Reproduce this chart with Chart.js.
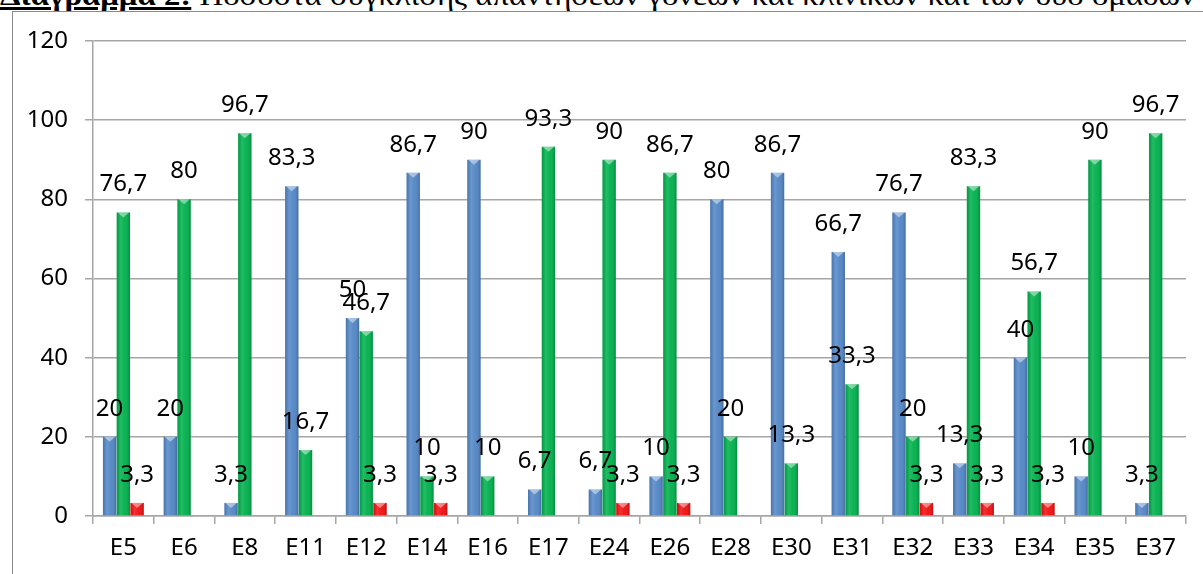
<!DOCTYPE html>
<html>
<head>
<meta charset="utf-8">
<script src="https://cdn.jsdelivr.net/npm/chart.js@4.4.1/dist/chart.umd.min.js"></script>
<style>
  html, body { margin: 0; padding: 0; background: #fff; }
  #wrap { position: relative; width: 1203px; height: 574px; overflow: hidden; }
  #frame { position: absolute; left: 12px; top: 11px; width: 1300px; height: 700px;
           border: 1px solid #8a8a8a; box-sizing: border-box; }
  #title { position: absolute; left: 0; top: -18px; white-space: nowrap;
           font-family: "Liberation Serif", "DejaVu Serif", serif; font-size: 28px;
           line-height: 1; color: #000; transform-origin: 0 0; }
  #title b { text-decoration: underline; text-decoration-thickness: 3px; }
  #chartBox { position: absolute; left: 0; top: 0; width: 1203px; height: 574px; }
</style>
</head>
<body>
<div id="wrap">
  <div id="frame"></div>
  <div id="title"><b>Διάγραμμα 2:</b> Ποσοστά σύγκλισης απαντήσεων γονέων και κλινικών και των δύο ομάδων</div>
  <div id="chartBox"><canvas id="c"></canvas></div>
</div>
<script>
// Items of the questionnaire
const categories = ["E5","E6","E8","E11","E12","E14","E16","E17","E24","E26","E28","E30","E31","E32","E33","E34","E35","E37"];
// Percentages per answer group
const blueValues  = [20, 20, 3.3, 83.3, 50, 86.7, 90, 6.7, 6.7, 10, 80, 86.7, 66.7, 76.7, 13.3, 40, 10, 3.3];
const greenValues = [76.7, 80, 96.7, 16.7, 46.7, 10, 10, 93.3, 90, 86.7, 20, 13.3, 33.3, 20, 83.3, 56.7, 90, 96.7];
const redValues   = [3.3, null, null, null, 3.3, 3.3, null, null, 3.3, 3.3, null, null, null, 3.3, 3.3, 3.3, null, null];
const yTicks = [0, 20, 40, 60, 80, 100, 120];

// stretch the heading across the page width
(function () {
  const t = document.getElementById('title');
  const w = t.getBoundingClientRect().width;
  t.style.transform = 'scaleX(' + (1195 / w) + ')';
})();

const FONT = '"Noto Sans", "Open Sans", sans-serif';
const GRID = '#a6a6a6';

// cylinder-like shading over each bar
const shadePlugin = {
  id: 'shade',
  afterDatasetsDraw(chart) {
    const ctx = chart.ctx;
    chart.data.datasets.forEach((ds, di) => {
      const meta = chart.getDatasetMeta(di);
      meta.data.forEach((bar, i) => {
        if (ds.data[i] == null) return;
        const p = bar.getProps(['x', 'y', 'base', 'width'], true);
        const l = p.x - p.width / 2, r = p.x + p.width / 2;
        const g = ctx.createLinearGradient(l, 0, r, 0);
        g.addColorStop(0, 'rgba(0,0,0,0.12)');
        g.addColorStop(0.3, 'rgba(255,255,255,0.14)');
        g.addColorStop(0.6, 'rgba(255,255,255,0.04)');
        g.addColorStop(1, 'rgba(0,0,0,0.2)');
        ctx.save();
        ctx.fillStyle = g;
        ctx.fillRect(l, p.y, p.width, p.base - p.y);
        // light cap on top
        ctx.fillStyle = 'rgba(255,255,255,0.45)';
        ctx.beginPath();
        ctx.moveTo(l + 1, p.y);
        ctx.lineTo(r - 1, p.y);
        ctx.lineTo(p.x, Math.min(p.y + 5, p.base));
        ctx.closePath();
        ctx.fill();
        ctx.restore();
      });
    });
  }
};

// value labels above each bar
const labelPlugin = {
  id: 'valueLabels',
  afterDatasetsDraw(chart) {
    const ctx = chart.ctx;
    ctx.save();
    ctx.font = '24px ' + FONT;
    ctx.fillStyle = '#000';
    ctx.textAlign = 'center';
    ctx.textBaseline = 'middle';
    chart.data.datasets.forEach((ds, di) => {
      const meta = chart.getDatasetMeta(di);
      meta.data.forEach((bar, i) => {
        const v = ds.data[i];
        if (v == null || v === 0) return;
        const p = bar.getProps(['x', 'y'], true);
        ctx.fillText(String(v).replace('.', ','), p.x, p.y - 28);
      });
    });
    ctx.restore();
  }
};

new Chart(document.getElementById('c'), {
  type: 'bar',
  data: {
    labels: categories,
    datasets: [
      { data: blueValues,  backgroundColor: '#5286C6' },
      { data: greenValues, backgroundColor: '#00B04C' },
      { data: redValues,   backgroundColor: '#F01010' }
    ]
  },
  options: {
    responsive: true,
    maintainAspectRatio: false,
    animation: false,
    devicePixelRatio: 1,
    categoryPercentage: 0.68,
    barPercentage: 0.97,
    layout: { padding: { left: 0, top: 41, right: 17, bottom: 0 } },
    plugins: { legend: { display: false }, tooltip: { enabled: false } },
    scales: {
      x: {
        grid: { drawOnChartArea: false, drawTicks: true, tickLength: 8, color: GRID, lineWidth: 1.5 },
        border: { color: GRID, width: 1.5 },
        ticks: { font: { family: FONT, size: 24 }, color: '#000', padding: 10, maxRotation: 0, autoSkip: false },
        afterFit(scale) { scale.height = 58; }
      },
      y: {
        min: 0, max: 120,
        afterBuildTicks(scale) { scale.ticks = yTicks.map(v => ({ value: v })); },
        grid: { color: GRID, lineWidth: 1.5, tickLength: 8 },
        border: { color: GRID, width: 1.5 },
        ticks: { font: { family: FONT, size: 24 }, color: '#000', padding: 17 },
        afterFit(scale) { scale.width = 93; }
      }
    }
  },
  plugins: [shadePlugin, labelPlugin]
});
</script>
</body>
</html>
